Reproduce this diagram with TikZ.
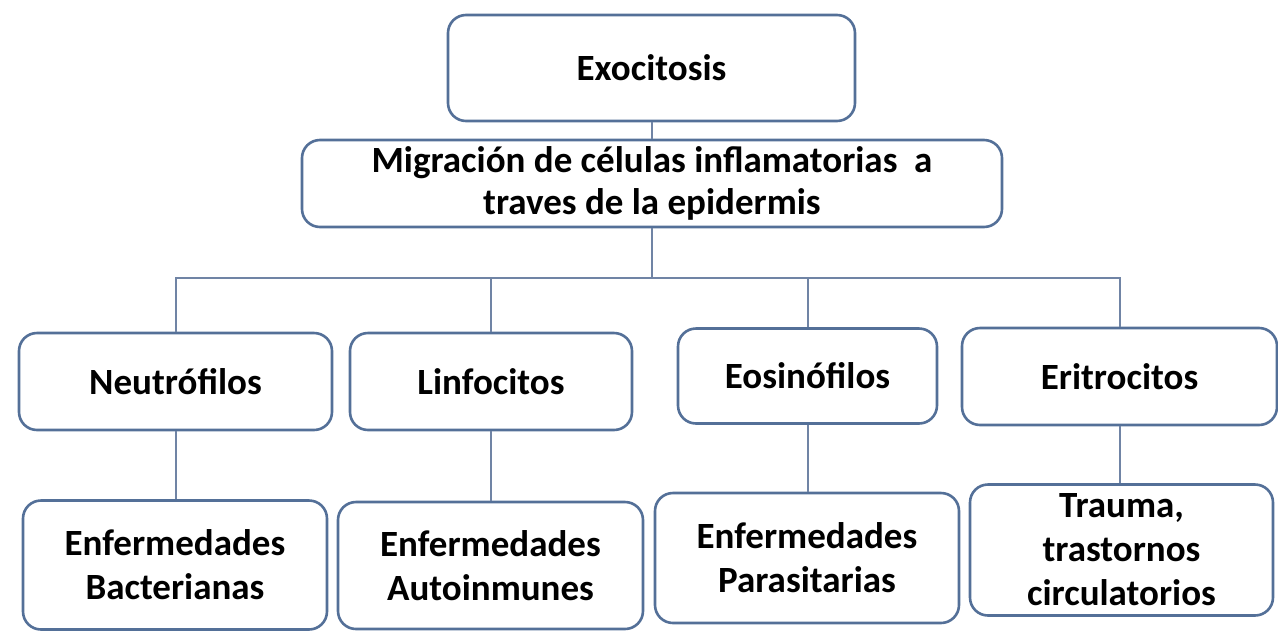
\documentclass[tikz,border=0pt]{standalone}
\usepackage{fontspec}
\setmainfont{Carlito}
\definecolor{boxblue}{RGB}{84,112,152}
\definecolor{linkblue}{RGB}{112,132,165}
\tikzset{block/.style = {rectangle, draw=boxblue, line width=2.6pt, fill=white, rounded corners=18pt,
		align=center, inner sep=0pt, font=\fontsize{37}{44}\selectfont\bfseries},
	line/.style     = {draw=linkblue, line width=2pt}
}

\begin{document}
\begin{tikzpicture}[x=1pt, y=-1pt]
		\useasboundingbox (0,0) rectangle (1278,630);
		\node [block, minimum width=407, minimum height=106] (exo) at (651.5,68) {Exocitosis};
		\node [block, minimum width=700, minimum height=87, font=\fontsize{37}{42}\selectfont\bfseries] (mig) at (652,183.5) {Migración de células inflamatorias\ \ a\\traves de la epidermis};
		\node [block, minimum width=313, minimum height=97] (neu) at (175.5,381.5) {Neutrófilos};
		\node [block, minimum width=282, minimum height=97] (lin) at (491,381.5) {Linfocitos};
		\node [block, minimum width=259, minimum height=95] (eos) at (807.5,376) {Eosinófilos};
		\node [block, minimum width=315, minimum height=97] (eri) at (1119.5,376.5) {Eritrocitos};
		\node [block, minimum width=304, minimum height=129] (bac) at (175,565) {Enfermedades\\Bacterianas};
		\node [block, minimum width=305, minimum height=127] (aut) at (490.5,565.5) {Enfermedades\\Autoinmunes};
		\node [block, minimum width=304, minimum height=130] (par) at (807,558) {Enfermedades\\Parasitarias};
		\node [block, minimum width=303, minimum height=131] (tra) at (1121.5,550) {Trauma,\\trastornos\\circulatorios};
		\coordinate (bus) at (652,278);
		\path[line] (exo.south) -- (exo.south |- mig.north);
		\path[line] (mig.south) -- (bus) -| (neu.north);
		\path[line] (bus) -| (lin.north);
		\path[line] (bus) -| (eos.north);
		\path[line] (bus) -| (eri.north);
		\path[line] (neu.south) -- (neu.south |- bac.north);
		\path[line] (lin.south) -- (lin.south |- aut.north);
		\path[line] (eos.south) -- (eos.south |- par.north);
		\path[line] (eri.south) -- (eri.south |- tra.north);
	\end{tikzpicture}
\end{document}
